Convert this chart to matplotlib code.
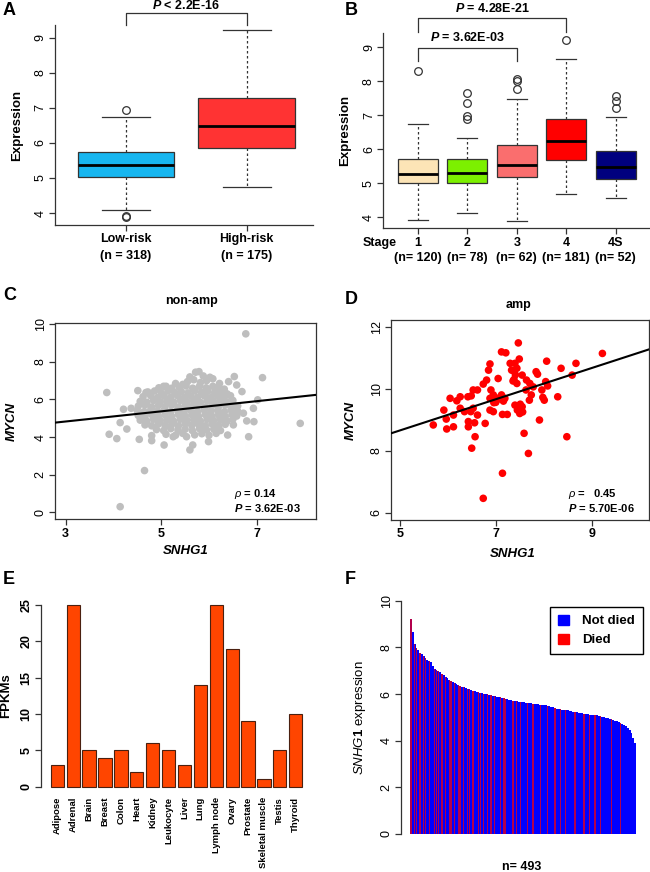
import matplotlib

matplotlib.use("Agg")
import matplotlib.pyplot as plt
import numpy as np
from matplotlib.patches import Patch

plt.rcParams.update(
    {
        "font.family": ["Liberation Sans", "DejaVu Sans"],
        "mathtext.fontset": "custom",
        "mathtext.rm": "Liberation Sans:bold",
        "mathtext.it": "Liberation Sans:italic",
        "mathtext.bf": "Liberation Sans:italic:bold",
        "axes.edgecolor": "#333333",
        "axes.linewidth": 0.9,
    }
)

INK = "#333333"
W, H = 650, 872

# ---- A: risk groups (box stats)
risk_groups = ["Low-risk", "High-risk"]
risk_n = [318, 175]
risk_q1 = [5.04, 5.86]
risk_med = [5.37, 6.48]
risk_q3 = [5.73, 7.28]
risk_lo = [4.09, 4.75]
risk_hi = [6.73, 9.22]
risk_fliers = [[6.93, 3.88, 3.92], []]
risk_colors = ["#17B6F0", "#FF3333"]

# ---- B: INSS stage
stage_labels = ["1", "2", "3", "4", "4S"]
stage_n = [120, 78, 62, 181, 52]
stage_q1 = [5.00, 5.02, 5.19, 5.69, 5.12]
stage_med = [5.29, 5.32, 5.55, 6.26, 5.49]
stage_q3 = [5.71, 5.71, 6.12, 6.89, 5.94]
stage_lo = [3.92, 4.14, 3.88, 4.68, 4.57]
stage_hi = [6.74, 6.32, 7.49, 8.66, 6.94]
stage_fliers = [[8.29], [7.67, 7.37, 6.97, 6.90], [7.78, 8.00, 8.06], [9.22], [7.23, 7.42, 7.58]]
stage_colors = ["#FCE4B6", "#7CF000", "#FA6E6E", "#FF0000", "#00007F"]

# ---- C: MYCN non-amplified (SNHG1, MYCN)
nonamp_pts = [
    (3.86, 6.37), (6.77, 9.49), (7.91, 4.73), (7.12, 7.16), (4.65, 2.22), (4.14, 0.30),
    (3.91, 4.15), (4.07, 3.92), (4.14, 4.77), (4.21, 5.48), (4.28, 4.43), (4.37, 5.53),
    (4.51, 6.47), (4.54, 3.88), (4.80, 3.81), (4.80, 4.08), (4.68, 6.37), (5.06, 3.58),
    (5.25, 4.02), (5.53, 4.02), (5.60, 3.32), (5.66, 3.58), (5.79, 7.48), (5.99, 3.76),
    (6.41, 6.95), (6.53, 7.22), (6.58, 6.77), (6.69, 6.42), (6.79, 4.86), (6.83, 4.02),
    (6.94, 4.82), (6.93, 5.53), (7.02, 5.98), (6.72, 5.27), (6.51, 4.65), (6.39, 4.11),
    (5.55, 6.95), (5.68, 7.05), (5.82, 6.90), (5.95, 7.00), (6.08, 7.10), (5.45, 6.80),
    (5.72, 7.45), (5.60, 7.20), (5.88, 7.25), (6.02, 7.18), (5.30, 6.85), (6.22, 6.85), (5.05, 6.70),
    (4.95, 6.62), (5.10, 6.70), (5.22, 6.60), (5.38, 6.65), (5.52, 6.72), (5.66, 6.60),
    (5.80, 6.70), (5.94, 6.62), (6.08, 6.70), (6.20, 6.60), (6.32, 6.55),
    (4.72, 6.40), (4.86, 6.45), (5.00, 6.35), (5.14, 6.45), (5.28, 6.38), (5.42, 6.42),
    (5.56, 6.35), (5.70, 6.45), (5.84, 6.38), (5.98, 6.44), (6.12, 6.36), (6.26, 6.42), (6.38, 6.30),
    (4.62, 6.15), (4.78, 6.20), (4.92, 6.10), (5.06, 6.18), (5.20, 6.12), (5.34, 6.20), (5.48, 6.10),
    (5.62, 6.18), (5.76, 6.12), (5.90, 6.20), (6.04, 6.10), (6.18, 6.18), (6.32, 6.12), (6.45, 6.20),
    (4.56, 5.90), (4.70, 5.85), (4.84, 5.95), (4.98, 5.88), (5.12, 5.92), (5.26, 5.86), (5.40, 5.95),
    (5.54, 5.88), (5.68, 5.92), (5.82, 5.85), (5.96, 5.94), (6.10, 5.88), (6.24, 5.92), (6.38, 5.86),
    (6.50, 5.95),
    (4.52, 5.65), (4.66, 5.70), (4.80, 5.60), (4.94, 5.68), (5.08, 5.62), (5.22, 5.70), (5.36, 5.60),
    (5.50, 5.68), (5.64, 5.62), (5.78, 5.70), (5.92, 5.60), (6.06, 5.68), (6.20, 5.62), (6.34, 5.70),
    (6.48, 5.60), (6.60, 5.66),
    (4.50, 5.40), (4.64, 5.35), (4.78, 5.45), (4.92, 5.38), (5.06, 5.42), (5.20, 5.35), (5.34, 5.44),
    (5.48, 5.36), (5.62, 5.42), (5.76, 5.35), (5.90, 5.44), (6.04, 5.38), (6.18, 5.42), (6.32, 5.35),
    (6.46, 5.44), (6.60, 5.38),
    (4.52, 5.15), (4.66, 5.10), (4.80, 5.20), (4.94, 5.12), (5.08, 5.18), (5.22, 5.10), (5.36, 5.20),
    (5.50, 5.12), (5.64, 5.18), (5.78, 5.10), (5.92, 5.20), (6.06, 5.12), (6.20, 5.18), (6.34, 5.10),
    (6.48, 5.20), (6.58, 5.12),
    (4.56, 4.90), (4.70, 4.85), (4.84, 4.95), (4.98, 4.88), (5.12, 4.92), (5.26, 4.85), (5.40, 4.95),
    (5.54, 4.88), (5.68, 4.92), (5.82, 4.85), (5.96, 4.95), (6.10, 4.88), (6.24, 4.92), (6.38, 4.85),
    (6.50, 4.95),
    (4.66, 4.65), (4.80, 4.60), (4.94, 4.70), (5.08, 4.62), (5.22, 4.68), (5.36, 4.60), (5.50, 4.70),
    (5.64, 4.62), (5.78, 4.68), (5.92, 4.60), (6.06, 4.70), (6.20, 4.62), (6.34, 4.68),
    (4.90, 4.40), (5.05, 4.35), (5.20, 4.45), (5.35, 4.38), (5.50, 4.42), (5.65, 4.35), (5.80, 4.45),
    (5.95, 4.38), (6.10, 4.42), (6.24, 4.35),
    (5.10, 4.15), (5.30, 4.10), (5.45, 4.20), (5.70, 4.12), (5.85, 4.18), (6.00, 4.10), (6.15, 4.20),
]
nonamp_fit = (4.02, 0.27)  # intercept, slope
nonamp_rho, nonamp_p = "0.14", "3.62E-03"

# ---- D: MYCN amplified
amp_pts = [
    (5.69, 8.83), (5.91, 9.31), (5.96, 9.02), (5.97, 8.70), (6.04, 9.69), (6.11, 9.15),
    (6.11, 8.77), (6.18, 9.61), (6.25, 9.74), (6.25, 9.37), (6.34, 9.26), (6.41, 9.74),
    (6.42, 8.94), (6.42, 8.77), (6.48, 9.77), (6.47, 9.26), (6.49, 8.08), (6.52, 9.37),
    (6.52, 9.96), (6.55, 8.90), (6.56, 8.45), (6.61, 9.96), (6.61, 9.15), (6.73, 10.15),
    (6.77, 8.88), (6.80, 10.28), (6.84, 10.60), (6.87, 10.80), (6.87, 9.69), (6.87, 9.31),
    (6.89, 9.96), (6.94, 9.80), (6.94, 9.26), (6.99, 9.56), (7.04, 10.33), (7.08, 9.67),
    (7.11, 9.80), (7.11, 11.19), (7.13, 9.17), (7.13, 7.27), (7.20, 11.16), (7.18, 9.69),
    (7.23, 9.17), (7.29, 10.82), (7.32, 10.60), (7.36, 10.58), (7.37, 10.30), (7.39, 10.82),
    (7.43, 10.66), (7.43, 10.17), (7.39, 9.47), (7.44, 9.31), (7.46, 11.48), (7.48, 10.96),
    (7.49, 9.20), (7.54, 10.44), (7.54, 9.42), (7.58, 8.56), (7.62, 9.96), (7.63, 10.28),
    (7.67, 7.91), (7.69, 9.63), (7.70, 10.17), (7.73, 9.80), (7.77, 10.06), (7.83, 10.55),
    (7.86, 10.47), (7.90, 8.99), (7.95, 9.96), (7.97, 9.72), (8.00, 9.63), (8.03, 10.23),
    (8.05, 10.89), (8.07, 10.09), (8.28, 9.74), (8.35, 10.66), (8.47, 8.45), (8.58, 10.44),
    (8.66, 10.82), (9.21, 11.14), (6.73, 6.46), (7.40, 10.45), (7.35, 10.25), (7.50, 9.50),
    (7.55, 9.25), (7.00, 9.70), (6.95, 9.55), (7.15, 9.60),
]
amp_fit = (6.13, 0.505)
amp_rho, amp_p = "0.45", "5.70E-06"

# ---- E: tissue expression
tissues = ["Adipose", "Adrenal", "Brain", "Breast", "Colon", "Heart", "Kidney", "Leukocyte",
           "Liver", "Lung", "Lymph node", "Ovary", "Prostate", "Skeletal muscle", "Testis", "Thyroid"]
fpkm = [3, 25, 5, 4, 5, 2, 6, 5, 3, 14, 25, 19, 9, 1, 5, 10]

# ---- F: sorted SNHG1 expression (one value per ~4 patients) and died positions
snhg1_sorted = [
    9.20, 8.67, 8.15, 7.98, 7.88, 7.78, 7.70, 7.63, 7.55, 7.48, 7.42, 7.36, 7.20, 7.08, 7.02, 6.97,
    6.93, 6.88, 6.82, 6.74, 6.67, 6.60, 6.55, 6.51, 6.47, 6.43, 6.39, 6.35, 6.32, 6.29, 6.26, 6.23,
    6.20, 6.17, 6.14, 6.11, 6.09, 6.07, 6.05, 6.03, 6.01, 5.99, 5.98, 5.97, 5.95, 5.93, 5.91, 5.89,
    5.87, 5.86, 5.84, 5.82, 5.80, 5.77, 5.75, 5.73, 5.71, 5.69, 5.68, 5.67, 5.66, 5.65, 5.64, 5.63,
    5.62, 5.61, 5.60, 5.59, 5.58, 5.57, 5.56, 5.55, 5.54, 5.52, 5.51, 5.49, 5.48, 5.46, 5.43, 5.40,
    5.37, 5.35, 5.34, 5.33, 5.32, 5.31, 5.30, 5.28, 5.26, 5.24, 5.22, 5.21, 5.19, 5.18, 5.17, 5.16,
    5.15, 5.13, 5.12, 5.11, 5.10, 5.09, 5.08, 5.07, 5.05, 5.03, 5.01, 4.99, 4.97, 4.95, 4.92, 4.89,
    4.86, 4.83, 4.80, 4.77, 4.73, 4.68, 4.62, 4.55, 4.46, 4.33, 4.13, 3.88,
]
died_idx = [0, 2, 3, 5, 7, 8, 10, 13, 14, 15, 17, 19, 21, 22, 24, 26, 27, 29, 31, 32, 34, 37, 38,
            40, 42, 44, 46, 49, 51, 52, 56, 58, 60, 64, 67, 71, 75, 79, 82, 85, 90, 95, 98, 101,
            104, 110, 115]
n_patients = 493


def px_axes(fig, x0, y0, x1, y1):
    return fig.add_axes([x0 / W, 1 - y1 / H, (x1 - x0) / W, (y1 - y0) / H])


def style(ax, spines=("left", "bottom")):
    for s in ax.spines:
        ax.spines[s].set_visible(s in spines)
    ax.tick_params(direction="out", length=4, width=0.9, color=INK, labelsize=9, pad=2)


def rotate_y(ax, bold=False):
    plt.setp(ax.get_yticklabels(), rotation=90, va="center",
             fontweight="bold" if bold else "normal")


def boxes(ax, q1, med, q3, lo, hi, fliers, colors):
    stats = [dict(q1=a, med=m, q3=b, whislo=l, whishi=h, fliers=f)
             for a, m, b, l, h, f in zip(q1, med, q3, lo, hi, fliers)]
    pos = np.arange(1, len(stats) + 1)
    bp = ax.bxp(
        stats, positions=pos, widths=0.8, capwidths=0.4, patch_artist=True, manage_ticks=False,
        boxprops=dict(edgecolor=INK, linewidth=0.9),
        medianprops=dict(color="black", linewidth=2),
        whiskerprops=dict(color=INK, linestyle=(0, (2, 2)), linewidth=0.9),
        capprops=dict(color=INK, linewidth=0.9),
        flierprops=dict(marker="o", markerfacecolor="none", markeredgecolor=INK,
                        markersize=5.5, markeredgewidth=0.9),
    )
    for patch, c in zip(bp["boxes"], colors):
        patch.set_facecolor(c)
    return pos


def bracket(ax, x0, x1, y, drop, ytext, label):
    ax.plot([x0, x0, x1, x1], [y - drop, y, y, y - drop], color=INK, lw=0.9, clip_on=False)
    ax.text((x0 + x1) / 2, ytext, label, ha="center", va="center", fontsize=9,
            fontweight="bold", clip_on=False)


fig = plt.figure(figsize=(W / 100, H / 100), dpi=100)

# ---------------- A
ax = px_axes(fig, 55, 25, 313, 225)
pos = boxes(ax, risk_q1, risk_med, risk_q3, risk_lo, risk_hi, risk_fliers, risk_colors)
style(ax)
ax.set_xlim(0.412, 2.549)
ax.set_ylim(3.66, 9.36)
ax.set_yticks(range(4, 10))
rotate_y(ax)
ax.set_xticks(pos)
ax.set_xticklabels([f"{g}\n(n = {n})" for g, n in zip(risk_groups, risk_n)],
                   fontweight="bold", fontsize=9, linespacing=1.5)
ax.set_ylabel("Expression", fontweight="bold", fontsize=9.5)
ax.yaxis.set_label_coords(-0.124, 0.5)
bracket(ax, 1, 2, 9.71, 0.35, 9.92, r"$\mathbf{P}$ < 2.2E-16")

# ---------------- B
ax = px_axes(fig, 383.3, 32.7, 650, 228.3)
pos = boxes(ax, stage_q1, stage_med, stage_q3, stage_lo, stage_hi, stage_fliers, stage_colors)
style(ax)
ax.set_xlim(0.305, 5.69)
ax.set_ylim(3.68, 9.43)
ax.set_yticks(range(4, 10))
rotate_y(ax)
ax.set_xticks(pos)
ax.set_xticklabels([f"{s}\n(n= {n})" for s, n in zip(stage_labels, stage_n)],
                   fontweight="bold", fontsize=9, linespacing=1.35)
ax.annotate("Stage", xy=(0.23, 0), xycoords=("data", "axes fraction"), xytext=(0, -6),
            textcoords="offset points", ha="center", va="top", fontweight="bold",
            fontsize=9, annotation_clip=False)
ax.set_ylabel("Expression", fontweight="bold", fontsize=9.5)
ax.yaxis.set_label_coords(-0.122, 0.5)
bracket(ax, 1, 4, 9.85, 0.39, 10.15, r"$\mathbf{P}$ = 4.28E-21")
bracket(ax, 1, 3, 8.97, 0.37, 9.28, r"$\mathbf{P}$ = 3.62E-03")


# ---------------- C / D scatter panels
def scatter_panel(ax, pts, fit, color, xlim, ylim, xticks, yticks, title, title_xy, rho, p,
                  ylab_x, xlab_xy):
    xs = [a for a, _ in pts]
    ys = [b for _, b in pts]
    ax.scatter(xs, ys, s=30, color=color, edgecolors="none", zorder=2)
    lx = np.array(xlim)
    ax.plot(lx, fit[0] + fit[1] * lx, color="black", lw=1.5, zorder=3)
    style(ax, spines=("left", "bottom", "top", "right"))
    ax.set_xlim(*xlim)
    ax.set_ylim(*ylim)
    ax.set_xticks(xticks)
    ax.set_yticks(yticks)
    plt.setp(ax.get_xticklabels(), fontweight="bold")
    rotate_y(ax)
    ax.text(title_xy[0], title_xy[1], title, transform=ax.transAxes, ha="center",
            va="center", fontweight="bold", fontsize=9)
    ax.text(0.685, 0.128, r"$\rho$ = " + rho, transform=ax.transAxes, ha="left",
            va="center", fontweight="bold", fontsize=8)
    ax.text(0.685, 0.06, r"$\mathbf{P}$ = " + p, transform=ax.transAxes, ha="left",
            va="center", fontweight="bold", fontsize=8)
    ax.set_xlabel("SNHG1", fontweight="bold", fontstyle="italic", fontsize=9.5)
    ax.set_ylabel("MYCN", fontweight="bold", fontstyle="italic", fontsize=9.5)
    ax.xaxis.set_label_coords(*xlab_xy)
    ax.yaxis.set_label_coords(ylab_x, 0.5)


ax = px_axes(fig, 55, 323.3, 316, 519.3)
scatter_panel(ax, nonamp_pts, nonamp_fit, "#BEBEBE", (2.776, 8.24), (-0.37, 10.05),
              [3, 5, 7], range(0, 11, 2), "non-amp", (0.524, 1.115), nonamp_rho, nonamp_p,
              -0.142, (0.5, -0.131))

ax = px_axes(fig, 391, 320, 649, 520)
scatter_panel(ax, amp_pts, amp_fit, "#FF0000", (4.81, 10.18), (5.76, 12.22),
              [5, 7, 9], range(6, 13, 2), "amp", (0.496, 1.075), "  " + amp_rho, amp_p,
              -0.133, (0.47, -0.14))

# ---------------- E
ax = px_axes(fig, 40.5, 597.7, 315.2, 794)
bx = 0.7 + 1.2 * np.arange(len(tissues))
ax.bar(bx, fpkm, width=1.0, color="#FF4500", edgecolor="#4A2010", linewidth=0.8)
style(ax, spines=("left",))
ax.spines["left"].set_bounds(0, 25)
ax.set_xlim(-0.568, 20.168)
ax.set_ylim(-1, 26)
ax.set_yticks(range(0, 26, 5))
rotate_y(ax, bold=True)
ax.set_xticks(bx)
ax.set_xticklabels(tissues, rotation=90, fontweight="bold", fontsize=6.8)
ax.tick_params(axis="x", length=0, pad=2)
ax.set_ylabel("FPKMs", fontweight="bold", fontsize=9.5)
ax.yaxis.set_label_coords(-0.104, 0.5)

# ---------------- F
ax = px_axes(fig, 401, 591.4, 645, 843.3)
fx = np.arange(len(snhg1_sorted)) + 0.5
ax.bar(fx, snhg1_sorted, width=1.08, color="#0000FF", linewidth=0)
dead = np.array(died_idx)
ax.bar(fx[dead], np.array(snhg1_sorted)[dead], width=0.7, color="#FF0000", alpha=0.7,
       linewidth=0)
style(ax, spines=("left",))
ax.spines["left"].set_bounds(0, 10)
ax.set_xlim(-4.94, len(snhg1_sorted) + 4.94)
ax.set_ylim(-0.4, 10.4)
ax.set_yticks(range(0, 11, 2))
rotate_y(ax)
ax.set_xticks([])
ax.set_xlabel(f"n= {n_patients}", fontweight="bold", fontsize=9)
ax.xaxis.set_label_coords(0.495, -0.07)
ax.set_ylabel(r"$\mathit{SNHG1}$ expression", fontsize=9.5)
ax.yaxis.set_label_coords(-0.135, 0.5)
leg = ax.legend(
    [Patch(color="#0000FF"), Patch(color="#FF0000")], ["Not died", "Died"],
    loc="upper right", bbox_to_anchor=(642.7 / W, 1 - 606.7 / H),
    bbox_transform=fig.transFigure, borderaxespad=0, fancybox=False, framealpha=1,
    edgecolor="black", handlelength=0.8, handleheight=0.8, handletextpad=1.0,
    borderpad=0.6, prop=dict(weight="bold", size=9.5),
)
leg.get_frame().set_linewidth(1)

# ---------------- panel letters
for letter, (x, y) in zip("ABCDEF", [(3, 2), (345, 2), (3, 287), (345, 291), (3, 571), (345, 571)]):
    fig.text(x / W, 1 - y / H, letter, ha="left", va="top", fontsize=13, fontweight="bold")

fig.savefig("out.png", dpi=100)
